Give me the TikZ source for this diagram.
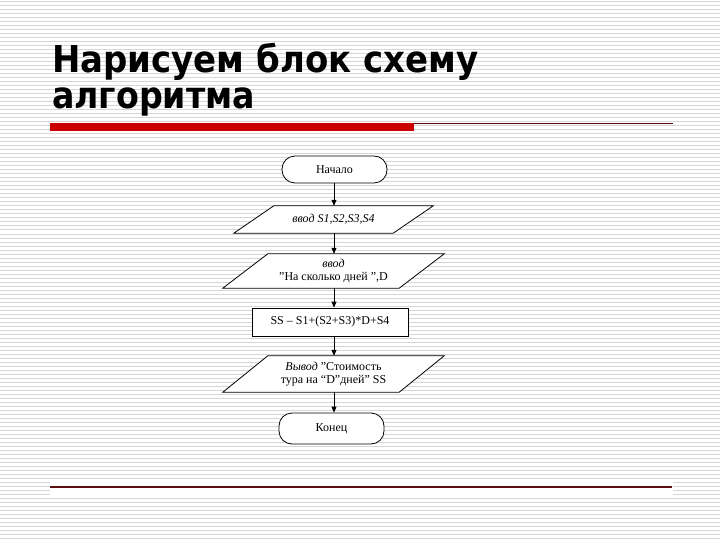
\documentclass[tikz,border=0pt]{standalone}
\usepackage{fontspec}
\setmainfont{Liberation Serif}
\newfontfamily\titlefont{DejaVu Sans}
\usetikzlibrary{arrows.meta,calc}
\pgfdeclarelayer{bglayer}
\pgfdeclarelayer{shapelayer}
\pgfsetlayers{bglayer,shapelayer,main}
\definecolor{barred}{RGB}{204,0,0}
\definecolor{rulered}{RGB}{90,16,16}
\definecolor{stripe}{RGB}{214,214,214}
\newcommand\drawparal[2]{%
  \begin{pgfonlayer}{shapelayer}
    \draw[shapeline,fill=white] ([xshift=#2]#1.north west) -- ([xshift=#2]#1.north east)
      -- ([xshift=-#2]#1.south east) -- ([xshift=-#2]#1.south west) -- cycle;
  \end{pgfonlayer}}
\begin{document}
\begin{tikzpicture}[x=1pt,y=-1pt,
  shapeline/.style={draw=black,line width=0.8pt},
  txt/.style={font=\fontsize{12}{13}\selectfont,align=center,inner sep=0pt},
  termbox/.style={txt,shapeline,fill=white,rounded corners=13pt,minimum width=105pt},
  iobox/.style={txt,minimum width=#1},
  procbox/.style={txt,shapeline,fill=white,minimum width=156pt,minimum height=28pt},
  flow/.style={-{Triangle[length=6pt,width=5pt]},line width=0.8pt},
  titletxt/.style={anchor=base west,inner sep=0pt,font=\titlefont\bfseries\fontsize{37}{37}\selectfont}]
\useasboundingbox (0,0) rectangle (720,540);
\begin{pgfonlayer}{bglayer}
  \fill[white] (0,0) rectangle (720,540);
  \foreach \i in {0,...,134} \draw[stripe,line width=1pt] (0,{4*\i+2}) -- (720,{4*\i+2});
  \fill[white] (50,480) rectangle (673,495);
\end{pgfonlayer}
% title
\node[titletxt] (title1) at (52,73) {\resizebox{426pt}{\height}{Нарисуем блок схему}};
\node[titletxt] (title2) at (52,109) {\resizebox{203pt}{\height}{алгоритма}};
\fill[barred] (50,123) rectangle (414,131);
\draw[rulered,line width=1pt] (414,124) -- (673,124);
\draw[rulered,line width=1.2pt] (50,487) -- (672,487);
% flowchart
\coordinate (ax) at (334,0);
\node[termbox,minimum height=27pt] (start) at (334.5,169.5) {Начало};
\node[iobox=159pt,minimum height=27pt] (in1) at (333.5,219.5) {\textit{ввод S1,S2,S3,S4}};
\drawparal{in1}{20pt}
\node[iobox=176pt,minimum height=34pt] (in2) at (333.5,271) {\textit{ввод}\\"На сколько дней ",D};
\drawparal{in2}{22.5pt}
\node[procbox] (calc) at (330,322) {SS -- S1+(S2+S3)*D+S4};
\node[iobox=176pt,minimum height=36pt] (out) at (333.5,374) {\textit{Вывод} "Стоимость\\тура на “D”дней” SS};
\drawparal{out}{22.5pt}
\node[termbox,minimum height=31pt] (stop) at (331.5,428.5) {Конец};
\draw[flow] (start.south -| ax) -- (in1.north -| ax);
\draw[flow] (in1.south -| ax) -- (in2.north -| ax);
\draw[flow] (in2.south -| ax) -- (calc.north -| ax);
\draw[flow] (calc.south -| ax) -- (out.north -| ax);
\draw[flow] (out.south -| ax) -- (stop.north -| ax);
\end{tikzpicture}
\end{document}
